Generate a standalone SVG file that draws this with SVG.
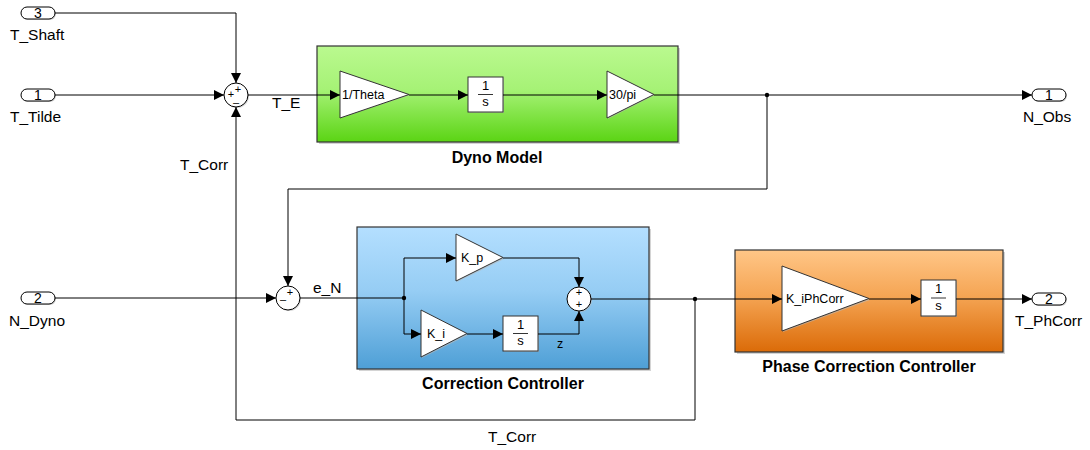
<svg xmlns="http://www.w3.org/2000/svg" width="1090" height="450" viewBox="0 0 1090 450">
  <defs>
    <linearGradient id="gGreen" x1="0" y1="0" x2="0" y2="1">
      <stop offset="0" stop-color="#baf98f"/>
      <stop offset="0.45" stop-color="#a6f276"/>
      <stop offset="1" stop-color="#5bd414"/>
    </linearGradient>
    <linearGradient id="gBlue" x1="0" y1="0" x2="0" y2="1">
      <stop offset="0" stop-color="#b4dfff"/>
      <stop offset="0.45" stop-color="#96cdf4"/>
      <stop offset="1" stop-color="#4e9fd6"/>
    </linearGradient>
    <linearGradient id="gOrange" x1="0" y1="0" x2="0" y2="1">
      <stop offset="0" stop-color="#ffc687"/>
      <stop offset="0.45" stop-color="#f5a554"/>
      <stop offset="1" stop-color="#db6b08"/>
    </linearGradient>
    <marker id="arr" viewBox="0 0 10 10" refX="10" refY="5" markerWidth="10" markerHeight="10" markerUnits="userSpaceOnUse" orient="auto">
      <path d="M0,0 L10,5 L0,10 Z" fill="#000"/>
    </marker>
  </defs>
  <style>
    text { font-family: "Liberation Sans", Arial, sans-serif; fill: #000; }
    .lbl { font-size: 15.5px; }
    .num { font-size: 14px; text-anchor: middle; }
    .title { font-size: 16px; font-weight: bold; text-anchor: middle; }
    .blk { font-size: 12.5px; }
    .frac { font-size: 13px; text-anchor: middle; }
    .sign { font-size: 11px; text-anchor: middle; }
    .port { fill: #fff; stroke: #000; stroke-width: 1; }
    .shadow { fill: #b8b8b8; opacity: 0.6; }
    .wire { fill: none; stroke: #000; stroke-width: 1; }
    .frame { stroke: #333; stroke-width: 1.2; }
    .inner { fill: #fff; stroke: #333; stroke-width: 1; }
  </style>

  <!-- input ports -->
  <g id="in3">
    <rect x="22" y="8" width="34" height="12" rx="6" class="shadow"/>
    <rect x="21" y="7" width="34" height="12" rx="6" class="port"/>
    <text class="num" x="38" y="18">3</text>
    <text class="lbl" x="10" y="40">T_Shaft</text>
  </g>
  <g id="in1">
    <rect x="22" y="90" width="34" height="12" rx="6" class="shadow"/>
    <rect x="21" y="89" width="34" height="12" rx="6" class="port"/>
    <text class="num" x="38" y="100">1</text>
    <text class="lbl" x="10" y="122">T_Tilde</text>
  </g>
  <g id="in2">
    <rect x="22" y="293" width="34" height="12" rx="6" class="shadow"/>
    <rect x="21" y="292" width="34" height="12" rx="6" class="port"/>
    <text class="num" x="38" y="303">2</text>
    <text class="lbl" x="9" y="326">N_Dyno</text>
  </g>

  <!-- output ports -->
  <g id="out1">
    <rect x="1033" y="90" width="34" height="12" rx="6" class="shadow"/>
    <rect x="1032" y="89" width="34" height="12" rx="6" class="port"/>
    <text class="num" x="1049" y="100">1</text>
    <text class="lbl" x="1023" y="122">N_Obs</text>
  </g>
  <g id="out2">
    <rect x="1033" y="294" width="34" height="12" rx="6" class="shadow"/>
    <rect x="1032" y="293" width="34" height="12" rx="6" class="port"/>
    <text class="num" x="1049" y="304">2</text>
    <text class="lbl" x="1015" y="326">T_PhCorr</text>
  </g>

  <!-- sum junctions -->
  <g id="sum1">
    <circle cx="237" cy="96" r="12" class="shadow"/>
    <circle cx="236" cy="95" r="12" class="port"/>
    <text class="sign" x="238" y="93">+</text>
    <text class="sign" x="231" y="98">+</text>
    <text class="sign" x="236" y="106">–</text>
  </g>
  <g id="sum2">
    <circle cx="289" cy="299" r="12" class="shadow"/>
    <circle cx="288" cy="298" r="12" class="port"/>
    <text class="sign" x="290" y="296">+</text>
    <text class="sign" x="283" y="303">–</text>
  </g>

  <!-- Dyno Model subsystem -->
  <g id="dyno">
    <rect x="319" y="48" width="361" height="96" class="shadow"/>
    <rect x="317" y="46" width="361" height="96" fill="url(#gGreen)" class="frame"/>
    <path d="M341,72 L410,95 L341,118 Z" class="shadow"/>
    <path d="M340,71 L409,94.5 L340,118 Z" class="inner"/>
    <text class="blk" x="342" y="99">1/Theta</text>
    <rect x="469" y="78" width="35" height="35" class="shadow"/>
    <rect x="468" y="77" width="35" height="35" class="inner"/>
    <text class="frac" x="485.5" y="90">1</text>
    <line x1="478" y1="94.5" x2="493" y2="94.5" stroke="#000" stroke-width="0.8"/>
    <text class="frac" x="485.5" y="106">s</text>
    <path d="M608,72 L655,95 L608,119 Z" class="shadow"/>
    <path d="M607,71 L654,94.5 L607,118 Z" class="inner"/>
    <text class="blk" x="609" y="99">30/pi</text>
    <text class="title" x="497" y="163">Dyno Model</text>
  </g>

  <!-- Correction Controller subsystem -->
  <g id="correction">
    <rect x="359" y="229" width="292" height="142" class="shadow"/>
    <rect x="357" y="227" width="292" height="142" fill="url(#gBlue)" class="frame"/>
    <path d="M457,235 L504,259 L457,282 Z" class="shadow"/>
    <path d="M456,234 L503,257.5 L456,281 Z" class="inner"/>
    <text class="blk" x="461" y="262">K_p</text>
    <path d="M422,311 L468,335 L422,358 Z" class="shadow"/>
    <path d="M421,310 L467,333.5 L421,357 Z" class="inner"/>
    <text class="blk" x="427" y="338">K_i</text>
    <rect x="504" y="317" width="35" height="35" class="shadow"/>
    <rect x="503" y="316" width="35" height="35" class="inner"/>
    <text class="frac" x="520.5" y="329">1</text>
    <line x1="513" y1="333.5" x2="528" y2="333.5" stroke="#000" stroke-width="0.8"/>
    <text class="frac" x="520.5" y="345">s</text>
    <circle cx="580" cy="300" r="12" class="shadow"/>
    <circle cx="579" cy="299" r="12" class="port"/>
    <text class="sign" x="579" y="296">+</text>
    <text class="sign" x="579" y="308">+</text>
    <text class="blk" x="557" y="348" font-size="11">z</text>
    <text class="title" x="503" y="389">Correction Controller</text>
  </g>

  <!-- Phase Correction Controller subsystem -->
  <g id="phase">
    <rect x="737" y="252" width="268" height="102" class="shadow"/>
    <rect x="735" y="250" width="268" height="102" fill="url(#gOrange)" class="frame"/>
    <path d="M783,267 L870,300 L783,332 Z" class="shadow"/>
    <path d="M782,266 L869,298.5 L782,331 Z" class="inner"/>
    <text class="blk" x="786" y="303">K_iPhCorr</text>
    <rect x="922" y="281" width="35" height="36" class="shadow"/>
    <rect x="921" y="280" width="35" height="36" class="inner"/>
    <text class="frac" x="938.5" y="293">1</text>
    <line x1="931" y1="298" x2="946" y2="298" stroke="#000" stroke-width="0.8"/>
    <text class="frac" x="938.5" y="310">s</text>
    <text class="title" x="869" y="372">Phase Correction Controller</text>
  </g>

  <!-- signal lines -->
  <g id="connectors">
    <path class="wire" d="M55,13 H236 V83" marker-end="url(#arr)"/>
    <path class="wire" d="M55,95 H224" marker-end="url(#arr)"/>
    <path class="wire" d="M695,299 V420 H236 V107" marker-end="url(#arr)"/>
    <path class="wire" d="M248,95 H340" marker-end="url(#arr)"/>
    <path class="wire" d="M409,95 H468" marker-end="url(#arr)"/>
    <path class="wire" d="M503,95 H607" marker-end="url(#arr)"/>
    <path class="wire" d="M654,95 H1032" marker-end="url(#arr)"/>
    <path class="wire" d="M767,95 V189 H288 V286" marker-end="url(#arr)"/>
    <path class="wire" d="M55,298 H276" marker-end="url(#arr)"/>
    <path class="wire" d="M300,298 H404"/>
    <path class="wire" d="M404,298 V258 H456" marker-end="url(#arr)"/>
    <path class="wire" d="M404,298 V334 H421" marker-end="url(#arr)"/>
    <path class="wire" d="M467,334 H503" marker-end="url(#arr)"/>
    <path class="wire" d="M503,258 H579 V287" marker-end="url(#arr)"/>
    <path class="wire" d="M538,334 H579 V311" marker-end="url(#arr)"/>
    <path class="wire" d="M591,299 H782" marker-end="url(#arr)"/>
    <path class="wire" d="M869,299 H921" marker-end="url(#arr)"/>
    <path class="wire" d="M956,299 H1032" marker-end="url(#arr)"/>
    <circle cx="767" cy="95" r="2.2" fill="#000"/>
    <circle cx="404" cy="298" r="2.2" fill="#000"/>
    <circle cx="695" cy="299" r="2.2" fill="#000"/>
    <text class="lbl" x="272" y="108">T_E</text>
    <text class="lbl" x="180" y="170">T_Corr</text>
    <text class="lbl" x="313" y="293">e_N</text>
    <text class="lbl" x="488" y="442">T_Corr</text>
  </g>
</svg>
